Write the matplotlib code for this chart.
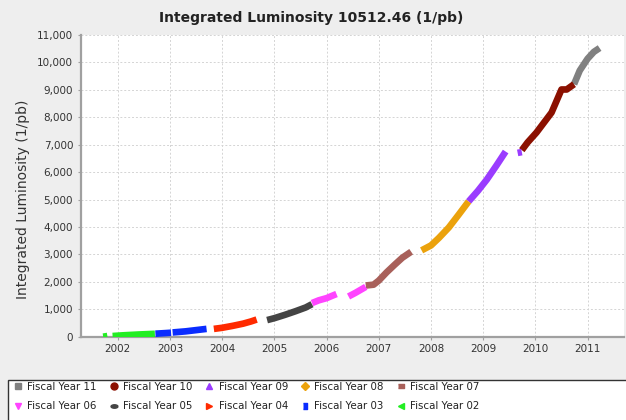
import numpy as np
import matplotlib
matplotlib.use('Agg')
import matplotlib.pyplot as plt
from matplotlib.lines import Line2D
from matplotlib.patches import Rectangle
from matplotlib.ticker import FuncFormatter

nan = np.nan

# ---------------------------------------------------------------------------
# Data (decimal year, integrated luminosity in 1/pb)
# ---------------------------------------------------------------------------
fy02_x = [2001.72, 2001.80, nan, 2001.90, 2002.10, 2002.40, 2002.71]
fy02_y = [5, 30, nan, 30, 55, 85, 110]

fy03_x = [2002.72, 2002.90, 2003.02, nan, 2003.05, 2003.30, 2003.50, 2003.70]
fy03_y = [115, 135, 150, nan, 160, 200, 245, 290]

fy04_x = [2003.84, 2004.00, 2004.20, 2004.40, 2004.55, 2004.66]
fy04_y = [290, 330, 400, 480, 560, 630]

fy05_x = [2004.86, 2005.00, 2005.20, 2005.40, 2005.60, 2005.72]
fy05_y = [610, 680, 800, 930, 1070, 1190]

fy06_x = [2005.72, 2005.85, 2006.00, 2006.10, 2006.19, nan, 2006.42, 2006.55, 2006.75]
fy06_y = [1230, 1330, 1410, 1490, 1560, nan, 1470, 1600, 1820]

fy07_x = [2006.75, 2006.90, 2007.00, 2007.15, 2007.30, 2007.45, 2007.62]
fy07_y = [1870, 1900, 2050, 2350, 2620, 2880, 3100]

fy08_x = [2007.82, 2008.00, 2008.15, 2008.34, 2008.53, 2008.72]
fy08_y = [3150, 3330, 3600, 3980, 4450, 4930]

fy09_x = [2008.72, 2008.90, 2009.07, 2009.25, 2009.43, nan, 2009.66, 2009.74]
fy09_y = [4930, 5320, 5730, 6230, 6750, nan, 6700, 6730]

fy10_x = [2009.74, 2009.85, 2010.02, 2010.31, 2010.50, 2010.60, 2010.74]
fy10_y = [6800, 7080, 7440, 8170, 9010, 9010, 9200]

fy11_x = [2010.74, 2010.85, 2011.00, 2011.12, 2011.23]
fy11_y = [9200, 9700, 10130, 10380, 10520]

labels = ['Fiscal Year 11', 'Fiscal Year 10', 'Fiscal Year 09', 'Fiscal Year 08',
          'Fiscal Year 07', 'Fiscal Year 06', 'Fiscal Year 05', 'Fiscal Year 04',
          'Fiscal Year 03', 'Fiscal Year 02']
series_x = [fy11_x, fy10_x, fy09_x, fy08_x, fy07_x, fy06_x, fy05_x, fy04_x, fy03_x, fy02_x]
series_y = [fy11_y, fy10_y, fy09_y, fy08_y, fy07_y, fy06_y, fy05_y, fy04_y, fy03_y, fy02_y]

year_ticks = [2002, 2003, 2004, 2005, 2006, 2007, 2008, 2009, 2010, 2011]
lumi_ticks = list(range(0, 11001, 1000))
total_lumi = 10512.46

# ---------------------------------------------------------------------------
# Style
# ---------------------------------------------------------------------------
BG = '#eeeeee'
GRID = '#d4d4d4'
AXIS = '#a0a0a0'

colors = ['#808080', '#8b1000', '#9a3cff', '#eba20c', '#a8605a',
          '#ff44ff', '#444444', '#ff2a00', '#0a2cff', '#22ee22']

hrect = [(-1, -0.45), (1, -0.45), (1, 0.45), (-1, 0.45)]
vrect = [(-0.45, -1), (0.45, -1), (0.45, 1), (-0.45, 1)]
t = np.linspace(0, 2 * np.pi, 24)
hell = list(zip(np.cos(t), 0.5 * np.sin(t)))
markers = ['s', 'o', '^', 'D', hrect, 'v', hell, '>', vrect, '<']
msizes = [5, 5, 5, 4, 5, 5, 5, 5, 5, 5]

fig = plt.figure(figsize=(6.26, 4.20), dpi=100, facecolor=BG)
ax = fig.add_axes([0.129, 0.198, 0.868, 0.719])
ax.set_facecolor('white')

for xs, ys, c in zip(series_x, series_y, colors):
    ax.plot(xs, ys, color=c, lw=4.8, solid_capstyle='butt',
            solid_joinstyle='round', zorder=3)

ax.set_xlim(2001.29, 2011.70)
ax.set_ylim(0, 11000)
ax.set_xticks(year_ticks)
ax.set_yticks(lumi_ticks)
ax.yaxis.set_major_formatter(FuncFormatter(lambda v, p: f'{int(v):,}'))
ax.grid(True, color=GRID, lw=0.7, ls=(0, (2, 2)), zorder=0)

for s in ['top', 'right']:
    ax.spines[s].set_visible(False)
for s in ['left', 'bottom']:
    ax.spines[s].set_color(AXIS)
    ax.spines[s].set_linewidth(1.6)
ax.tick_params(axis='both', colors=AXIS, length=2.5, width=0.8,
               labelsize=7.5, labelcolor='#333333', pad=3)

ax.set_ylabel('Integrated Luminosity (1/pb)', fontsize=10, color='#333333')
ax.yaxis.set_label_coords(-0.093, 0.455)
fig.text(0.497, 0.958, f'Integrated Luminosity {total_lumi:.2f} (1/pb)',
         ha='center', va='center', fontsize=10, fontweight='bold', color='#222222')

# Legend box
fig.patches.append(Rectangle((8 / 626, -0.05), 1.0, (420 - 380) / 420 + 0.05,
                             transform=fig.transFigure, facecolor='white',
                             edgecolor='#333333', lw=1.0, zorder=1))
handles = [Line2D([], [], ls='none', marker=m, color=c, markersize=ms)
           for m, c, ms in zip(markers, colors, msizes)]
# legend fills column by column; reorder so entries read across rows
order = [0, 5, 1, 6, 2, 7, 3, 8, 4, 9]
fig.legend(handles=[handles[i] for i in order], labels=[labels[i] for i in order],
           ncol=5, loc='upper left',
           bbox_to_anchor=(14 / 626, 1 - 382 / 420), frameon=False,
           fontsize=7.4, handlelength=0.8, handletextpad=0.5,
           columnspacing=1.25, labelspacing=0.9, borderpad=0, borderaxespad=0,
           labelcolor='#222222')

fig.savefig('out.png', dpi=100, facecolor=BG)
